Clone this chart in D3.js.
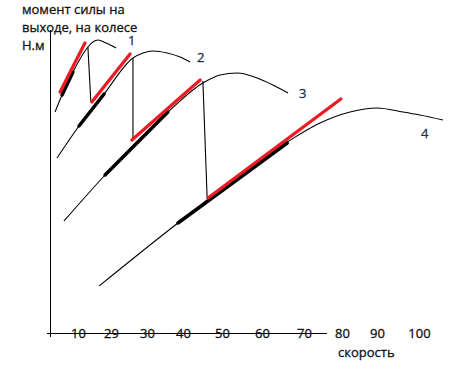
<!DOCTYPE html>
<html><head><meta charset="utf-8">
<script src="https://cdn.jsdelivr.net/npm/d3@7"></script>
<style>html,body{margin:0;padding:0;background:#fff;} svg{display:block;}</style>
</head><body>
<script>
// ---- data (speed, torque in arbitrary units) ----
const tickValues = [10, 20, 30, 40, 50, 60, 70, 80, 90, 100];
const tickLabels = ["10", "29", "30", "40", "50", "60", "70", "80", "90", "100"];
const yTitleLines = ["момент силы на", "выходе, на колесе", "Н.м"];
const xTitle = "скорость";
const curveNames = ["1", "2", "3", "4"];

const curve1 = [[1.8,221],[4.3,238],[8.2,261],[13.0,286],[14.5,291],[16.1,293],[18.5,290],[21.4,285]];
const curve2 = [[2.5,175],[10.3,207],[17.9,239],[26.1,275],[28.9,280],[31.7,282],[35.6,280],[39.2,276],[41.8,271]];
const curve3 = [[5.0,112],[18.2,158],[35.8,221],[45.1,250],[49.5,258],[53.8,260],[58.8,255],[62.6,248],[66.2,240]];
const curve4 = [[16.4,47],[38.6,110],[66.0,191],[74.2,210],[82.3,221],[90.0,225],[96.2,221],[100.2,218],[105.7,213]];

// gear-shift drops: [speed top, torque top, speed bottom, torque bottom]
const drops = [[13.0,286,13.9,231],[26.1,275,26.1,193],[45.1,252,46.2,134]];
// red segments: [speed start, torque start, speed end, torque end]
const redSegs = [[3.6,241,12.1,290],[14.2,231,25.3,279],[25.8,193,44.4,253],[46.4,135,79.7,234]];
// black thick segments
const blackSegs = [[4.3,238,8.2,261],[10.3,207,17.9,239],[18.2,158,35.8,221],[38.6,110,66.0,190]];
// curve-number label anchors
const labelSpeed = [24.7, 43.6, 68.8, 100.5];
const labelTorque = [288, 271, 235, 195];

// ---- drawing ----
const W = 463, H = 377;
const svg = d3.select("body").append("svg").attr("width", W).attr("height", H);

const x = d3.scaleLinear()
  .domain([0, 10, 20, 30, 40, 50, 60, 70, 80, 90, 100])
  .range([50, 78, 111, 147, 183, 222, 262, 304, 342, 377, 419]);
const y = d3.scaleLinear().domain([0, 300]).range([333, 33]);

const font = "'Open Sans', 'Noto Sans', sans-serif";
const txtColor = "#111";
const numColor = "#1f2f55";

function styleText(sel, col) {
  sel.attr("font-family", font).attr("font-size", 13).attr("fill", col)
     .attr("stroke", col).attr("stroke-width", 0.3);
}

// axes lines
svg.append("line").attr("x1", x(-1)).attr("x2", x(76)).attr("y1", y(0)).attr("y2", y(0))
  .attr("stroke", "#000").attr("stroke-width", 1).attr("shape-rendering", "crispEdges");
svg.append("line").attr("x1", x(0)).attr("x2", x(0)).attr("y1", y(-4)).attr("y2", y(303))
  .attr("stroke", "#000").attr("stroke-width", 1).attr("shape-rendering", "crispEdges");

// x tick labels through axis
const ax = d3.axisBottom(x).tickValues(tickValues).tickFormat((d, i) => tickLabels[i]).tickSize(0);
const gx = svg.append("g").attr("transform", `translate(0,${y(0)})`).call(ax);
gx.select(".domain").remove();
gx.selectAll("text").attr("y", 5).attr("dy", 0).call(styleText, txtColor);

// axis titles
svg.append("text").attr("x", x(80) - 4).attr("y", 357).text(xTitle).call(styleText, txtColor);
svg.append("g").selectAll("text").data(yTitleLines).join("text")
  .attr("x", 22).attr("y", (d, i) => 14 + i * 18).text(d => d).call(styleText, txtColor);

// curves
const line = d3.line().x(d => x(d[0])).y(d => y(d[1])).curve(d3.curveMonotoneX);
svg.append("g").selectAll("path").data([curve1, curve2, curve3, curve4]).join("path")
  .attr("d", line).attr("fill", "none").attr("stroke", "#000").attr("stroke-width", 1.1);

svg.append("g").selectAll("line").data(drops).join("line")
  .attr("x1", d => x(d[0])).attr("y1", d => y(d[1])).attr("x2", d => x(d[2])).attr("y2", d => y(d[3]))
  .attr("stroke", "#000").attr("stroke-width", 1.1);

svg.append("g").selectAll("line").data(blackSegs).join("line")
  .attr("x1", d => x(d[0])).attr("y1", d => y(d[1])).attr("x2", d => x(d[2])).attr("y2", d => y(d[3]))
  .attr("stroke", "#000").attr("stroke-width", 3.5).attr("stroke-linecap", "round");

svg.append("g").selectAll("line").data(redSegs).join("line")
  .attr("x1", d => x(d[0])).attr("y1", d => y(d[1])).attr("x2", d => x(d[2])).attr("y2", d => y(d[3]))
  .attr("stroke", "#ed1c24").attr("stroke-width", 3.3).attr("stroke-linecap", "round");

// curve labels
svg.append("g").selectAll("text").data(curveNames).join("text")
  .attr("x", (d, i) => x(labelSpeed[i])).attr("y", (d, i) => y(labelTorque[i])).text(d => d)
  .call(styleText, numColor);
</script>
</body></html>
